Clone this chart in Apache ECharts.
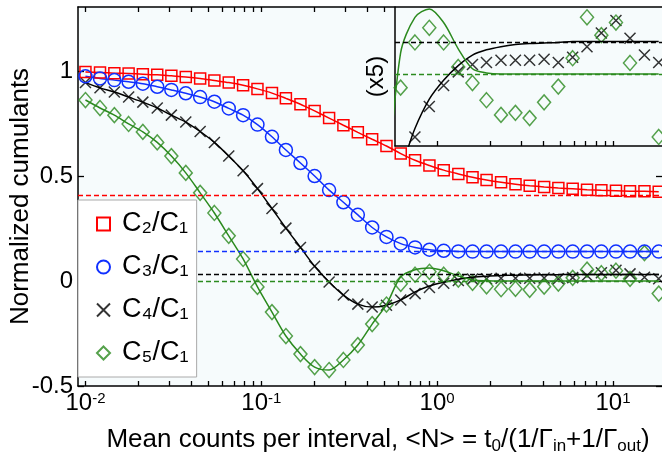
<!DOCTYPE html>
<html>
<head>
<meta charset="utf-8">
<script src="https://cdn.jsdelivr.net/npm/echarts@6/dist/echarts.min.js"></script>
<style>
  html, body { margin: 0; padding: 0; background: #fff; }
  #chart { width: 662px; height: 461px; }
</style>
</head>
<body>
<div id="chart"></div>
<script>
// mean counts per interval <N> (log spaced samples)
const meanN = [0.0100, 0.0121, 0.0146, 0.0176, 0.0212, 0.0256, 0.0308, 0.0372, 0.0449, 0.0541,
  0.0653, 0.0788, 0.0951, 0.115, 0.138, 0.167, 0.201, 0.243, 0.293, 0.354,
  0.427, 0.515, 0.621, 0.749, 0.904, 1.09, 1.32, 1.59, 1.91, 2.31,
  2.79, 3.36, 4.06, 4.89, 5.90, 7.12, 8.59, 10.4, 12.5, 15.1, 18.2];

// measured ratios
const c2 = [0.995, 0.993, 0.99, 0.988, 0.985, 0.982, 0.977, 0.972, 0.965, 0.955,
  0.945, 0.932, 0.915, 0.895, 0.87, 0.842, 0.81, 0.776, 0.742, 0.708,
  0.675, 0.643, 0.607, 0.575, 0.55, 0.528, 0.51, 0.494, 0.481, 0.47,
  0.461, 0.454, 0.448, 0.443, 0.439, 0.435, 0.432, 0.43, 0.428, 0.427, 0.425];
const c3 = [0.975, 0.965, 0.957, 0.949, 0.94, 0.925, 0.91, 0.894, 0.876, 0.854,
  0.822, 0.79, 0.745, 0.687, 0.624, 0.562, 0.5, 0.433, 0.375, 0.315,
  0.255, 0.21, 0.178, 0.16, 0.149, 0.144, 0.141, 0.14, 0.14, 0.14,
  0.14, 0.14, 0.14, 0.14, 0.14, 0.14, 0.14, 0.14, 0.14, 0.14, 0.14];
const c4 = [0.945, 0.92, 0.9, 0.876, 0.852, 0.824, 0.79, 0.757, 0.712, 0.66,
  0.595, 0.525, 0.44, 0.345, 0.252, 0.16, 0.07, -0.005, -0.067, -0.11,
  -0.124, -0.115, -0.09, -0.06, -0.031, -0.011, 0.002, 0.009, 0.011, 0.013,
  0.013, 0.013, 0.014, 0.011, 0.016, 0.026, 0.039, 0.051, 0.034, 0.018, 0.011];
const c5 = [0.862, 0.824, 0.79, 0.748, 0.71, 0.66, 0.595, 0.515, 0.42, 0.324,
  0.215, 0.105, -0.028, -0.148, -0.262, -0.348, -0.41, -0.424, -0.376, -0.305,
  -0.205, -0.112, -0.013, 0.030, 0.044, 0.030, 0.0067, -0.0086, -0.025, -0.039,
  -0.037, -0.042, -0.027, -0.012, 0.015, 0.054, 0.037, 0.049, 0.0105, 0.133, -0.06];

// theory curves for C4/C1 and C5/C1
const c4Fit = [0.945, 0.92, 0.9, 0.876, 0.852, 0.824, 0.79, 0.757, 0.712, 0.66,
  0.595, 0.525, 0.44, 0.345, 0.252, 0.16, 0.07, -0.005, -0.067, -0.11,
  -0.124, -0.115, -0.09, -0.052, -0.024, -0.006, 0.008, 0.018, 0.023, 0.026,
  0.028, 0.029, 0.0295, 0.03, 0.031, 0.031, 0.031, 0.031, 0.031, 0.031, 0.031];
const c5Fit = [0.862, 0.824, 0.79, 0.748, 0.71, 0.66, 0.595, 0.515, 0.42, 0.324,
  0.215, 0.105, -0.028, -0.148, -0.262, -0.348, -0.41, -0.424, -0.376, -0.305,
  -0.205, -0.112, 0.02, 0.054, 0.062, 0.049, 0.024, 0.005, 0.001, 0,
  0, 0, 0, 0, 0, 0, 0, 0, 0, 0, 0];

// long-time limits (dashed)
const limC2 = 0.414, limC3 = 0.135, limC4 = 0.03, limC5 = 0;

const majorTicks = [0.01, 0.1, 1, 10];
const xTicks = [0.01, 0.02, 0.03, 0.04, 0.05, 0.06, 0.07, 0.08, 0.09,
  0.1, 0.2, 0.3, 0.4, 0.5, 0.6, 0.7, 0.8, 0.9, 1, 2, 3, 4, 5, 6, 7, 8, 9, 10];
const yTicks = [-0.5, 0, 0.5, 1];

const xMin = 0.00907, xMax = 19.0;
const insetXMin = 0.577;
const insetYMin = -0.0686, insetYMax = 0.0638;

const RED = '#ff0000', BLUE = '#1030ff', BLACK = '#000', GREEN = '#2b8a1e';
const FONT = '"Liberation Sans", Arial, sans-serif';
const cross = 'path://M0,0L10,10M10,0L0,10';

const pts = ys => meanN.map((x, i) => [x, ys[i]]);

function tickAxis(grid, pos, min, max, ticks, labels) {
  return {
    type: 'log', logBase: 10, gridIndex: grid, position: pos, min: min, max: max,
    axisLine: { show: true, onZero: false, lineStyle: { color: '#000', width: 1.5 } },
    axisTick: { show: true, inside: true, length: 5, customValues: ticks, lineStyle: { color: '#000', width: 1.3 } },
    axisLabel: labels ? {
      customValues: majorTicks, margin: 5, color: '#000', fontFamily: FONT,
      formatter: v => '{b|10}{s|' + Math.round(Math.log10(v)) + '}',
      rich: {
        b: { fontSize: 24, fontFamily: FONT, color: '#000', lineHeight: 24, verticalAlign: 'bottom', padding: [10, 0, 0, 0] },
        s: { fontSize: 15, fontFamily: FONT, color: '#000', lineHeight: 15, verticalAlign: 'top' }
      }
    } : { show: false },
    splitLine: { show: false }
  };
}

function dash(color, v) {
  return {
    silent: true, symbol: ['none', 'none'], label: { show: false },
    lineStyle: { color: color, type: [5, 3], width: 1.3 },
    data: [{ yAxis: v }]
  };
}

const hollow = c => ({ color: 'rgba(0,0,0,0)', borderColor: c, borderWidth: 1.5 });

const chart = echarts.init(document.getElementById('chart'));

const xAxes = [
  tickAxis(0, 'bottom', xMin, xMax, xTicks, true),
  tickAxis(0, 'top', xMin, xMax, xTicks.filter(v => v < insetXMin), false),
  tickAxis(1, 'bottom', insetXMin, xMax, xTicks.filter(v => v >= 1), false)
];
xAxes[0].name = '{t|Mean counts per interval, <N> = t}{u|0}{t|/(1/Γ}{u|in}{t|+1/Γ}{u|out}{t|)}';
xAxes[0].nameLocation = 'middle';
xAxes[0].nameGap = 41;
xAxes[0].nameMoveOverlap = false;
xAxes[0].nameTextStyle = {
  padding: [0, 0, 0, 16],
  rich: {
    t: { fontSize: 26, fontFamily: FONT, color: '#000', lineHeight: 28, verticalAlign: 'top' },
    u: { fontSize: 17, fontFamily: FONT, color: '#000', lineHeight: 17, verticalAlign: 'bottom', padding: [16, 0, 0, 0] }
  }
};

// legend labels with subscript digits
const legendText = {
  'C2/C1': 'C\u2082/C\u2081',
  'C3/C1': 'C\u2083/C\u2081',
  'C4/C1': 'C\u2084/C\u2081',
  'C5/C1': 'C\u2085/C\u2081'
};

chart.setOption({
  animation: false,
  backgroundColor: '#fff',
  grid: [
    { left: 78, right: 0, top: 7, bottom: 75, containLabel: false, outerBoundsMode: 'none',
      show: true, backgroundColor: '#f6fbfc', borderWidth: 0 },
    { left: 395, right: 0, top: 7, bottom: 315, containLabel: false, outerBoundsMode: 'none', show: false }
  ],
  legend: {
    z: 20, orient: 'vertical', left: 78, top: 200,
    padding: [9, 8, 9, 18], itemGap: 13, itemWidth: 13, itemHeight: 13,
    backgroundColor: '#fff', borderColor: '#aaa', borderWidth: 1,
    data: [
      { name: 'C2/C1', icon: 'rect' },
      { name: 'C3/C1', icon: 'circle' },
      { name: 'C4/C1', icon: cross },
      { name: 'C5/C1', icon: 'diamond' }
    ],
    formatter: n => legendText[n],
    textStyle: { fontSize: 27, lineHeight: 30, fontFamily: FONT, color: '#000', padding: [0, 0, 0, 7] }
  },
  xAxis: xAxes,
  yAxis: [
    {
      type: 'value', gridIndex: 0, min: -0.5, max: 1.305, interval: 0.5,
      axisLine: { show: true, onZero: false, lineStyle: { color: '#000', width: 1.5 } },
      axisTick: { inside: true, length: 6, customValues: yTicks, lineStyle: { color: '#000', width: 1.3 } },
      axisLabel: { fontSize: 24, fontFamily: FONT, color: '#000', margin: 5, customValues: yTicks },
      splitLine: { show: false },
      name: 'Normalized cumulants', nameLocation: 'middle', nameGap: 44, nameMoveOverlap: false,
      nameTextStyle: { fontSize: 26, fontFamily: FONT, color: '#000' }
    },
    {
      type: 'value', gridIndex: 0, position: 'right', min: -0.5, max: 1.305,
      axisLine: { show: false, onZero: false },
      axisTick: { show: true, inside: true, length: 6, customValues: yTicks.slice(0, 3), lineStyle: { color: '#000', width: 1.3 } },
      axisLabel: { show: false }, splitLine: { show: false }
    },
    {
      type: 'value', gridIndex: 1, min: insetYMin, max: insetYMax,
      axisLine: { show: true, onZero: false, lineStyle: { color: '#000', width: 1.5 } },
      axisTick: { show: false }, axisLabel: { show: false }, splitLine: { show: false },
      name: '(x5)', nameLocation: 'middle', nameGap: 7, nameMoveOverlap: false,
      nameTextStyle: { fontSize: 24, fontFamily: FONT, color: '#000' }
    }
  ],
  series: [
    {
      name: 'C2/C1', type: 'line', data: pts(c2), smooth: 0.3,
      symbol: 'rect', symbolSize: 11, itemStyle: hollow(RED),
      lineStyle: { color: RED, width: 1.5 }, markLine: dash(RED, limC2)
    },
    {
      name: 'C3/C1', type: 'line', data: pts(c3), smooth: 0.3,
      symbol: 'circle', symbolSize: 13, itemStyle: hollow(BLUE),
      lineStyle: { color: BLUE, width: 1.5 }, markLine: dash(BLUE, limC3)
    },
    {
      name: 'c4fit', type: 'line', data: pts(c4Fit), smooth: 0.3, symbol: 'none',
      lineStyle: { color: BLACK, width: 1.5 }, markLine: dash(BLACK, limC4)
    },
    {
      name: 'C4/C1', type: 'scatter', data: pts(c4),
      symbol: cross, symbolSize: 11, itemStyle: hollow(BLACK)
    },
    {
      name: 'c5fit', type: 'line', data: pts(c5Fit), smooth: 0.3, symbol: 'none',
      lineStyle: { color: GREEN, width: 1.5 }, markLine: dash(GREEN, limC5)
    },
    {
      name: 'C5/C1', type: 'scatter', data: pts(c5),
      symbol: 'diamond', symbolSize: [13, 15], itemStyle: hollow(GREEN)
    },
    // inset (y magnified x5)
    {
      name: 'c4fitInset', type: 'line', xAxisIndex: 2, yAxisIndex: 2, data: pts(c4Fit), smooth: 0.3,
      symbol: 'none', lineStyle: { color: BLACK, width: 1.5 }, markLine: dash(BLACK, limC4)
    },
    {
      name: 'c5fitInset', type: 'line', xAxisIndex: 2, yAxisIndex: 2, data: pts(c5Fit), smooth: 0.3,
      symbol: 'none', lineStyle: { color: GREEN, width: 1.5 }, markLine: dash(GREEN, limC5)
    },
    {
      name: 'c4Inset', type: 'scatter', xAxisIndex: 2, yAxisIndex: 2, data: pts(c4),
      symbol: cross, symbolSize: 11, itemStyle: hollow(BLACK)
    },
    {
      name: 'c5Inset', type: 'scatter', xAxisIndex: 2, yAxisIndex: 2, data: pts(c5),
      symbol: 'diamond', symbolSize: [13, 15], itemStyle: hollow(GREEN)
    }
  ]
});
</script>
</body>
</html>
